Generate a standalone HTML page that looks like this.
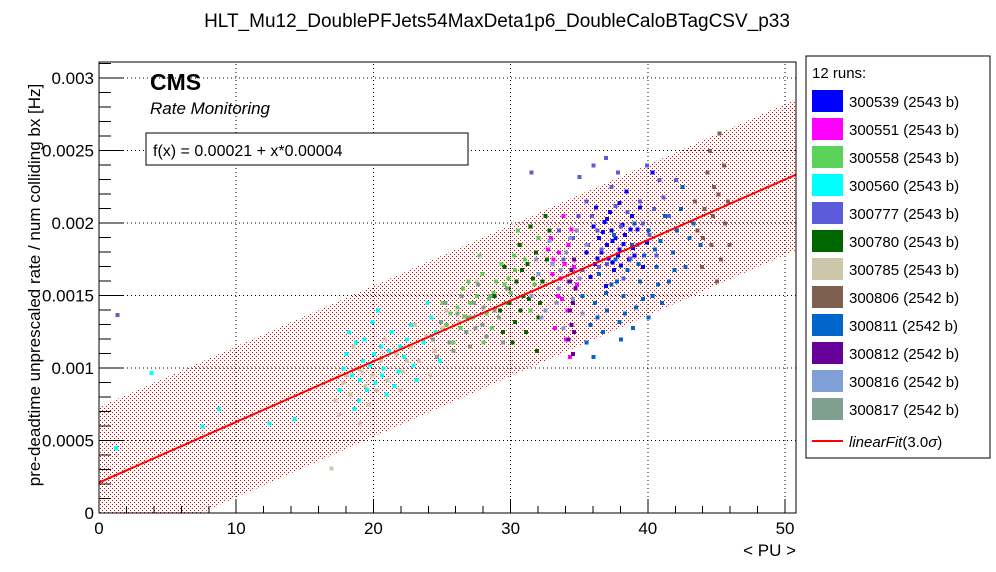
<!DOCTYPE html>
<html><head><meta charset="utf-8">
<style>
html,body{margin:0;padding:0;background:#fff;}
svg{display:block;font-family:"Liberation Sans",sans-serif;}
</style></head>
<body>
<svg id="chart" width="996" height="572" viewBox="0 0 996 572" xmlns="http://www.w3.org/2000/svg" shape-rendering="crispEdges">
<defs>
<pattern id="dots" width="4" height="4" patternUnits="userSpaceOnUse">
<rect x="0" y="0" width="1" height="1" fill="#e00"/><rect x="2" y="2" width="1" height="1" fill="#e00"/>
</pattern>
<clipPath id="plotclip"><rect x="99" y="62" width="697" height="451"/></clipPath>
</defs>
<text x="497" y="27" font-size="19" text-anchor="middle">HLT_Mu12_DoublePFJets54MaxDeta1p6_DoubleCaloBTagCSV_p33</text>
<g id="band" clip-path="url(#plotclip)"></g>
<g id="grid"></g>
<g id="points" clip-path="url(#plotclip)"></g>
<g id="fit" clip-path="url(#plotclip)" shape-rendering="auto"></g>
<rect x="99" y="62" width="697" height="451" fill="none" stroke="#000" stroke-width="1"/>
<g id="axes"></g>
<text transform="translate(40,285) rotate(-90)" font-size="17" text-anchor="middle">pre-deadtime unprescaled rate / num colliding bx [Hz]</text>
<text x="796" y="556" font-size="17" text-anchor="end">&lt; PU &gt;</text>
<text x="150" y="90" font-size="23" font-weight="bold">CMS</text>
<text x="150" y="114" font-size="17" font-style="italic">Rate Monitoring</text>
<rect x="146" y="133" width="322" height="32" fill="#fff" stroke="#000"/>
<text x="153" y="156" font-size="16">f(x) = 0.00021 + x*0.00004</text>
<g id="legend"></g>
</svg>
<script>
const runNames = ["300539 (2543 b)","300551 (2543 b)","300558 (2543 b)","300560 (2543 b)","300777 (2543 b)","300780 (2543 b)","300785 (2543 b)","300806 (2542 b)","300811 (2542 b)","300812 (2542 b)","300816 (2542 b)","300817 (2542 b)"];
const runColors = ["#0000ff","#ff00ff","#5bd35b","#00ffff","#5b5bdb","#006600","#ccc6aa","#7f6050","#0066cc","#660099","#7f9fd6","#7f9f8f"];
const xTicks = [0,10,20,30,40,50];
const yTicks = [0,0.0005,0.001,0.0015,0.002,0.0025,0.003];
const yTickLabels = ["0","0.0005","0.001","0.0015","0.002","0.0025","0.003"];
const fitIntercept = 0.00021;
const fitSlope = 0.0000418;
const bandHalfWidth = 0.00052;
const pts539 = [[36.1,.00172],[37.0,.00185],[37.8,.00178],[38.3,.00192],[36.8,.00201],[37.5,.00168],[38.9,.00183],[36.4,.00190],[37.2,.00208],[38.6,.00175],[35.8,.00163],[39.2,.00196],[37.9,.00214],[36.9,.00157],[38.1,.00199],[37.4,.00188],[39.6,.00170],[35.5,.00180],[38.4,.00222],[36.2,.00211],[37.7,.00160],[40.3,.00235],[38.8,.00205],[37.1,.00176],[39.9,.00187],[36.6,.00180],[38.0,.00171],[37.3,.00195],[39.4,.00211],[36.0,.00198],[37.6,.00190],[38.2,.00186],[36.7,.00194],[37.9,.00182],[38.7,.00196],[37.0,.00203],[36.3,.00176],[38.5,.00168],[39.0,.00178],[37.4,.00173]];
const pts551 = [[33.1,.00175],[33.6,.00162],[34.2,.00185],[33.4,.00150],[34.6,.00170],[32.9,.00190],[33.8,.00205],[34.1,.00140],[33.2,.00128],[34.8,.00158],[33.5,.00180],[34.4,.00196],[33.0,.00165],[34.0,.00120],[33.7,.00148],[32.7,.00182],[34.3,.00108],[33.9,.00172]];
const pts558 = [[25.3,.00130],[26.1,.00142],[26.8,.00125],[27.5,.00150],[28.2,.00138],[28.9,.00160],[29.6,.00145],[30.3,.00168],[31.0,.00175],[31.7,.00158],[25.8,.00118],[26.5,.00155],[27.2,.00135],[27.9,.00165],[28.6,.00128],[29.3,.00172],[30.0,.00152],[30.7,.00185],[31.4,.00140],[32.0,.00190],[25.0,.00145],[26.3,.00128],[27.7,.00178],[28.4,.00148],[29.1,.00135],[29.8,.00162],[30.5,.00195],[24.5,.00125],[26.9,.00160],[28.0,.00118],[27.0,.00145],[28.7,.00152],[29.5,.00158],[26.6,.00136],[30.2,.00178],[25.6,.00138]];
const pts560 = [[17.5,.00085],[18.0,.00110],[18.4,.00095],[18.9,.00078],[19.3,.00120],[19.7,.00102],[20.1,.00090],[20.5,.00115],[20.9,.00082],[21.3,.00125],[21.8,.00098],[22.2,.00108],[22.7,.00130],[23.1,.00092],[23.6,.00118],[24.2,.00135],[24.8,.00105],[18.2,.00125],[19.0,.00092],[19.9,.00132],[20.7,.00100],[21.5,.00088],[22.4,.00120],[17.8,.00100],[19.5,.00085],[20.3,.00140],[21.1,.00112],[23.9,.00145],[18.6,.00072],[22.9,.00102],[19.2,.00105],[20.0,.00110],[20.6,.00095],[21.9,.00115],[18.7,.00118],[24.5,.00125],[1.2,.00045],[3.8,.00097],[7.5,.00060],[12.4,.00062],[14.2,.00065],[8.7,.00072]];
const pts777 = [[33.8,.00175],[34.5,.00190],[35.2,.00168],[35.9,.00205],[36.6,.00182],[37.3,.00225],[38.0,.00198],[38.7,.00176],[39.4,.00215],[40.1,.00192],[40.8,.00230],[41.5,.00205],[34.2,.00160],[35.5,.00215],[36.3,.00195],[37.0,.00172],[37.8,.00235],[38.5,.00208],[39.2,.00185],[39.9,.00240],[40.6,.00178],[34.9,.00205],[36.9,.00245],[38.2,.00162],[41.1,.00218],[33.5,.00195],[35.0,.00232],[31.5,.00235],[36.0,.00240],[42.0,.00230],[35.6,.00185],[36.4,.00170],[39.6,.00200],[40.4,.00210],[37.6,.00212],[1.3,.00137]];
const pts780 = [[29.2,.00140],[29.8,.00155],[30.3,.00132],[30.8,.00168],[31.3,.00148],[31.8,.00180],[32.3,.00160],[32.8,.00195],[29.5,.00170],[30.1,.00118],[30.6,.00185],[31.1,.00125],[31.6,.00162],[32.1,.00145],[32.6,.00175],[29.9,.00145],[30.4,.00160],[31.4,.00198],[32.0,.00135],[28.8,.00150],[31.9,.00112],[30.9,.00150],[32.5,.00205],[29.4,.00125],[30.7,.00140],[31.2,.00172]];
const pts785 = [[17.2,.00078],[17.8,.00090],[18.3,.00082],[18.8,.00100],[19.4,.00088],[19.9,.00095],[20.5,.00105],[21.0,.00092],[21.6,.00110],[22.1,.00098],[22.7,.00115],[23.3,.00105],[23.8,.00122],[24.4,.00112],[25.0,.00128],[25.6,.00118],[26.2,.00132],[26.8,.00125],[17.5,.00068],[18.5,.00115],[19.6,.00075],[20.8,.00120],[21.9,.00085],[23.0,.00130],[24.1,.00095],[25.3,.00140],[18.0,.00095],[19.1,.00098],[20.2,.00085],[22.4,.00105],[16.9,.00031],[19.0,.00062],[27.5,.00160]];
const pts806 = [[43.6,.00195],[44.1,.00210],[44.6,.00185],[45.1,.00220],[45.6,.00200],[44.3,.00235],[45.3,.00175],[43.9,.00170],[44.8,.00225],[45.8,.00215],[44.5,.00250],[45.0,.00160],[43.4,.00215],[45.5,.00240],[44.0,.00190],[44.7,.00205],[45.9,.00185],[45.2,.00262]];
const pts811 = [[35.2,.00150],[35.8,.00130],[36.4,.00165],[37.0,.00140],[37.6,.00175],[38.2,.00150],[38.8,.00185],[39.4,.00160],[40.0,.00195],[40.6,.00170],[41.2,.00205],[41.8,.00180],[42.4,.00210],[43.0,.00190],[35.5,.00118],[36.1,.00145],[36.7,.00125],[37.3,.00158],[37.9,.00132],[38.5,.00168],[39.1,.00142],[39.7,.00178],[40.3,.00150],[40.9,.00188],[41.5,.00160],[42.1,.00195],[42.7,.00170],[43.3,.00200],[36.0,.00108],[38.0,.00120],[40.0,.00135],[39.0,.00200],[41.0,.00145],[37.5,.00192],[42.5,.00225],[43.8,.00185],[36.9,.00152],[38.3,.00138],[39.6,.00148],[40.7,.00158],[41.9,.00168],[37.7,.00160],[39.3,.00172],[40.5,.00182],[36.3,.00135],[38.9,.00128]];
const pts812 = [[34.3,.00160],[34.5,.00145],[34.4,.00130],[34.6,.00175],[34.2,.00120],[34.5,.00110],[34.7,.00155],[34.3,.00140],[34.6,.00125],[34.4,.00168]];
const pts816 = [[31.5,.00150],[32.0,.00165],[32.5,.00140],[33.0,.00172],[33.5,.00155],[34.0,.00180],[34.5,.00148],[35.0,.00162],[35.5,.00185],[32.2,.00135],[32.8,.00188],[33.3,.00145],[33.8,.00128],[34.3,.00190],[35.2,.00138],[31.8,.00175],[33.6,.00168],[34.8,.00195]];
const pts817 = [[24.3,.00120],[24.9,.00132],[25.5,.00118],[26.1,.00138],[26.7,.00125],[27.3,.00145],[27.9,.00130],[28.5,.00150],[29.1,.00135],[29.7,.00155],[25.2,.00145],[25.8,.00112],[26.4,.00150],[27.0,.00115],[27.6,.00158],[28.2,.00122],[28.8,.00140],[29.4,.00118],[24.6,.00108],[26.9,.00135],[28.0,.00142],[27.4,.00128]];
const runPoints = [pts539,pts551,pts558,pts560,pts777,pts780,pts785,pts806,pts811,pts812,pts816,pts817];

const NS="http://www.w3.org/2000/svg";
const X0=99,X1=796,Y0=513,Y1=62,XMAX=50.8,YMAX=0.00311;
function sx(v){return X0+(X1-X0)*v/XMAX;}
function sy(v){return Y0-(Y0-Y1)*v/YMAX;}
function mk(tag,attrs,parent){const e=document.createElementNS(NS,tag);for(const k in attrs)e.setAttribute(k,attrs[k]);parent.appendChild(e);return e;}

const band=document.getElementById('band');
const bp=mk('polygon',{points:[[0,fitIntercept+bandHalfWidth],[XMAX,fitIntercept+fitSlope*XMAX+bandHalfWidth],[XMAX,fitIntercept+fitSlope*XMAX-bandHalfWidth],[0,fitIntercept-bandHalfWidth]].map(p=>sx(p[0])+','+sy(p[1])).join(' '),fill:'url(#dots)'},band);



const grid=document.getElementById('grid');
xTicks.forEach(t=>{if(t>0){const l=mk('line',{x1:sx(t),x2:sx(t),y1:Y0,y2:Y1,stroke:'#000','stroke-dasharray':'1,3','stroke-width':1},grid);

}});
yTicks.forEach(t=>{if(t>0){const l=mk('line',{x1:X0,x2:X1,y1:sy(t),y2:sy(t),stroke:'#000','stroke-dasharray':'1,3','stroke-width':1},grid);

}});

const pg=document.getElementById('points');
runPoints.forEach((arr,i)=>{arr.forEach(p=>{const r=mk('rect',{x:sx(p[0])-1.5,y:sy(p[1])-1.5,width:4,height:4,fill:runColors[i]},pg);

});});

const fl=mk('line',{x1:sx(0),y1:sy(fitIntercept),x2:sx(XMAX),y2:sy(fitIntercept+fitSlope*XMAX),stroke:'#ff0000','stroke-width':2},document.getElementById('fit'));



const ax=document.getElementById('axes');
for(let v=0;v<=XMAX;v+=2){const major=v%10===0;const t=mk('line',{x1:sx(v),x2:sx(v),y1:Y0,y2:Y0-(major?14:7),stroke:'#000'},ax);

}
for(let k=0;k*0.0001<=YMAX;k++){const major=k%5===0;const t=mk('line',{x1:X0,x2:X0+(major?24:12),y1:sy(k*0.0001),y2:sy(k*0.0001),stroke:'#000'},ax);

}
xTicks.forEach(t=>{const e=mk('text',{x:sx(t),y:534,'font-size':17,'text-anchor':'middle'},ax);e.textContent=t;

});
yTicks.forEach((t,i)=>{const e=mk('text',{x:94,y:sy(t)+6,'font-size':17,'text-anchor':'end'},ax);e.textContent=yTickLabels[i];

});

const lg=document.getElementById('legend');
const box=mk('rect',{x:806,y:56,width:184,height:402,fill:'#fff',stroke:'#000'},lg);


const hd=mk('text',{x:812,y:78,'font-size':15},lg);hd.textContent='12 runs:';


runNames.forEach((n,i)=>{const y=90+i*28;
const s=mk('rect',{x:812,y:y,width:31,height:22,fill:runColors[i]},lg);


const t=mk('text',{x:849,y:y+17,'font-size':15},lg);t.textContent=n;

});
const ll=mk('line',{x1:812,x2:843,y1:441,y2:441,stroke:'#ff0000','stroke-width':2},lg);


const lt=mk('text',{x:849,y:447,'font-size':15},lg);
lt.innerHTML='<tspan font-style="italic">linearFit</tspan>(3.0<tspan font-style="italic">σ</tspan>)';


</script>
</body></html>
